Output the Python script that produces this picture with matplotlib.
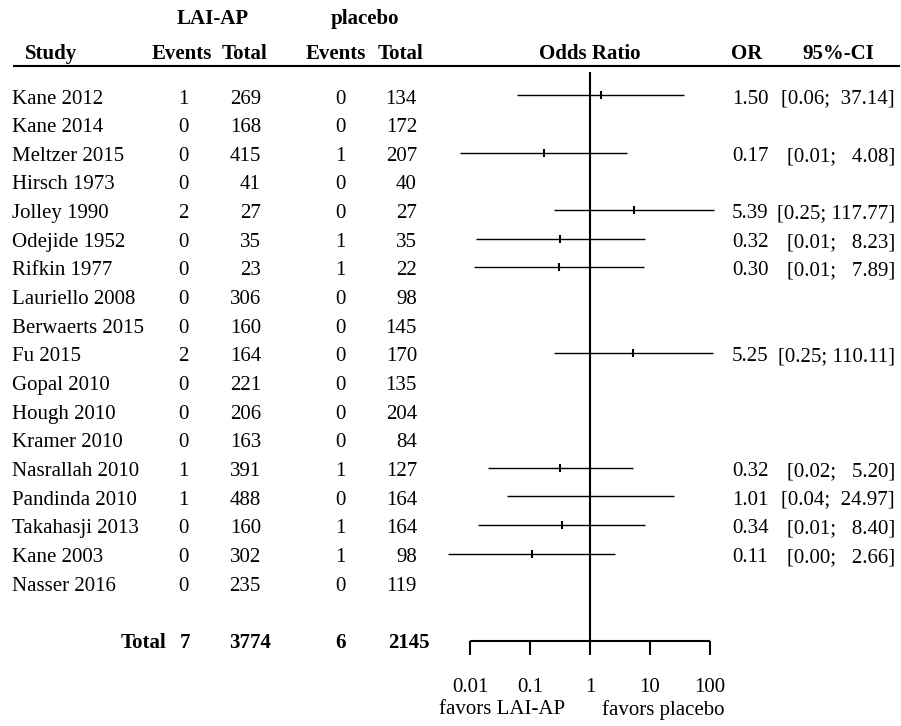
import numpy as np
import matplotlib.pyplot as plt

plt.rcParams['font.family'] = ['Liberation Serif', 'DejaVu Serif']
plt.rcParams['font.size'] = 15

# data
studies = ["Kane 2012", "Kane 2014", "Meltzer 2015", "Hirsch 1973", "Jolley 1990",
           "Odejide 1952", "Rifkin 1977", "Lauriello 2008", "Berwaerts 2015", "Fu 2015",
           "Gopal 2010", "Hough 2010", "Kramer 2010", "Nasrallah 2010", "Pandinda 2010",
           "Takahasji 2013", "Kane 2003", "Nasser 2016"]
ev_lai = [1, 0, 0, 0, 2, 0, 0, 0, 0, 2, 0, 0, 0, 1, 1, 0, 0, 0]
tot_lai = [269, 168, 415, 41, 27, 35, 23, 306, 160, 164, 221, 206, 163, 391, 488, 160, 302, 235]
ev_pla = [0, 0, 1, 0, 0, 1, 1, 0, 0, 0, 0, 0, 0, 1, 0, 1, 1, 0]
tot_pla = [134, 172, 207, 40, 27, 35, 22, 98, 145, 170, 135, 204, 84, 127, 164, 164, 98, 119]
nan = np.nan
odds = [1.50, nan, 0.17, nan, 5.39, 0.32, 0.30, nan, nan, 5.25, nan, nan, nan, 0.32, 1.01, 0.34, 0.11, nan]
ci_lo = [0.06, nan, 0.0067, nan, 0.25, 0.0128, 0.0118, nan, nan, 0.25, nan, nan, nan, 0.0201, 0.041, 0.0137, 0.0043, nan]
ci_hi = [37.14, nan, 4.08, nan, 117.77, 8.23, 7.89, nan, nan, 110.11, nan, nan, nan, 5.20, 24.97, 8.40, 2.66, nan]
ticks = [0.01, 0.1, 1, 10, 100]
tick_labels = ["0.01", "0.1", "1", "10", "100"]


# pixel row -> row index
def row(px):
    return (px - 97) / 28.65


dy = 2 / 28.65   # text sits a touch lower than the lines

W, H = 901, 726
fig = plt.figure(figsize=(W / 100, H / 100), dpi=100)
ax = fig.add_axes([0, 0, 1, 1])
ax.set_xlim(0, W)
ax.set_ylim(row(H), row(0))
ax.axis('off')

ax2 = fig.add_axes([440 / W, 0, 300 / W, 1])
ax2.set_xscale('log')
ax2.set_xlim(10**-2.5, 10**2.5)
ax2.set_ylim(row(H), row(0))
ax2.axis('off')
ax2.patch.set_alpha(0)

n = len(studies)
ys = np.arange(n)
total_y = 19

# headers
b = dict(fontweight='bold', va='center')
ax.text(213, row(17) + dy, "LAI-AP", ha='center', **b)
ax.text(365, row(17) + dy, "placebo", ha='center', **b)
hy = row(52) + dy
ax.text(25, hy, "Study", ha='left', **b)
ax.text(182, hy, "Events", ha='center', **b)
ax.text(245, hy, "Total", ha='center', **b)
ax.text(336, hy, "Events", ha='center', **b)
ax.text(400, hy, "Total", ha='center', **b)
ax.text(747, hy, "OR", ha='center', **b)
ax.text(838, hy, "95%-CI", ha='center', **b)
ax2.text(1, hy, "Odds Ratio", ha='center', **b)
ax.hlines(row(66), 13, 900, color='black', lw=1.5)

# study rows
for i in range(n):
    y = ys[i] + dy
    ax.text(12, y, studies[i], ha='left', va='center')
    ax.text(183, y, str(ev_lai[i]), ha='center', va='center')
    ax.text(261, y, str(tot_lai[i]), ha='right', va='center')
    ax.text(340, y, str(ev_pla[i]), ha='center', va='center')
    ax.text(417, y, str(tot_pla[i]), ha='right', va='center')
    if not np.isnan(odds[i]):
        ax.text(732, y, f"{odds[i]:.2f}", ha='left', va='center')
        ax.text(895, y, f"[{ci_lo[i]:.2f};{ci_hi[i]:7.2f}]", ha='right', va='center')

# totals
ty = total_y + dy
ax.text(166, ty, "Total", ha='right', **b)
ax.text(185, ty, str(sum(ev_lai)), ha='center', **b)
ax.text(250, ty, str(sum(tot_lai)), ha='center', **b)
ax.text(340, ty, str(sum(ev_pla)), ha='center', **b)
ax.text(409, ty, str(sum(tot_pla)), ha='center', **b)

# forest part
ax2.vlines(1, row(72), total_y, color='black', lw=1.5)
ax2.hlines(ys - 0.06, ci_lo, ci_hi, color='black', lw=1.0)
ax2.plot(odds, ys - 0.06, ls='none', marker='|', ms=6, mew=1.5, color='black')
ax2.hlines(total_y, ticks[0], ticks[-1], color='black', lw=1.5)
ax2.vlines(ticks, total_y, row(655), color='black', lw=1.5)
for t, lab in zip(ticks, tick_labels):
    ax2.text(t, row(686) + dy, lab, ha='center', va='center')
ax2.text(10**-0.417, row(708) + dy, "favors LAI-AP", ha='right', va='center')
ax2.text(10**0.2, row(708) + dy, "favors placebo", ha='left', va='center')

fig.savefig("out.png", dpi=100)
